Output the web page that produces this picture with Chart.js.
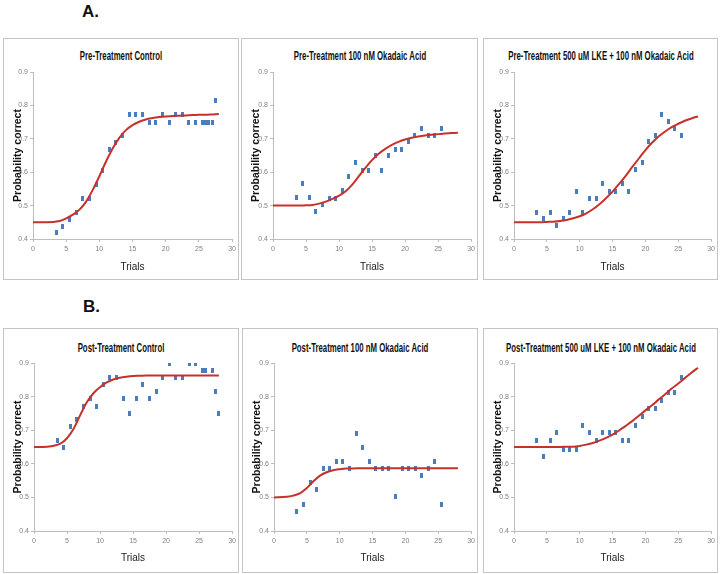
<!DOCTYPE html>
<html>
<head>
<meta charset="utf-8">
<script src="https://cdn.jsdelivr.net/npm/chart.js@4.4.1/dist/chart.umd.min.js"></script>
<style>
  body { margin: 0; background: #fff; width: 721px; height: 574px; position: relative; overflow: hidden; font-family: "Liberation Sans", Arial, sans-serif; }
  .label { position: absolute; font-weight: bold; font-size: 17px; line-height: 17px; color: #111; }
  .panel { position: absolute; border: 1px solid #c4c4c4; box-sizing: border-box; }
  .plot { position: absolute; }
  .ptitle { position: absolute; left: 50%; text-align: center; white-space: nowrap;
    font: bold 13px "Liberation Sans Narrow", "Liberation Sans", sans-serif; line-height: 15px; color: #111;
    transform: translateX(-50%) scaleX(0.6); transform-origin: center; }
</style>
</head>
<body>
<div class="label" style="left:82px; top:3px;">A.</div>
<div class="label" style="left:83px; top:298px;">B.</div>
<script>
// trials where each panel was sampled
const trials = [3.5, 4.5, 5.5, 6.5, 7.5, 8.5, 9.5, 10.5, 11.5, 12.5, 13.5, 14.5, 15.5, 16.5, 17.5, 18.5, 19.5, 20.5, 21.5, 22.5, 23.5, 24.5, 25.5];
const preControlTrials = [3.5, 4.5, 5.5, 6.5, 7.5, 8.5, 9.5, 10.5, 11.5, 12.5, 13.5, 14.5, 15.5, 16.5, 17.5, 18.5, 19.5, 20.5, 21.5, 22.5, 23.5, 24.5, 25.5, 26, 26.5, 27, 27.5];
const postControlTrials = [3.5, 4.5, 5.5, 6.5, 7.5, 8.5, 9.5, 10.5, 11.5, 12.5, 13.5, 14.5, 15.5, 16.5, 17.5, 18.5, 19.5, 20.5, 21.5, 22.5, 23.5, 24.5, 25.5, 26, 27, 27.5, 28];

const preControlProb = [0.418, 0.438, 0.458, 0.478, 0.52, 0.52, 0.564, 0.605, 0.668, 0.688, 0.709, 0.773, 0.773, 0.773, 0.75, 0.75, 0.773, 0.75, 0.773, 0.773, 0.75, 0.75, 0.75, 0.75, 0.75, 0.75, 0.814];
const preOkadaicProb = [0.524, 0.566, 0.524, 0.482, 0.504, 0.52, 0.52, 0.544, 0.586, 0.628, 0.606, 0.606, 0.649, 0.606, 0.649, 0.669, 0.669, 0.691, 0.711, 0.731, 0.711, 0.711, 0.731];
const preLkeProb = [0.48, 0.46, 0.48, 0.44, 0.46, 0.48, 0.542, 0.48, 0.522, 0.522, 0.565, 0.542, 0.542, 0.565, 0.542, 0.607, 0.629, 0.691, 0.711, 0.774, 0.753, 0.731, 0.711];
const postControlProb = [0.668, 0.648, 0.71, 0.732, 0.772, 0.794, 0.772, 0.836, 0.856, 0.856, 0.794, 0.751, 0.794, 0.836, 0.794, 0.814, 0.856, 0.898, 0.856, 0.856, 0.898, 0.898, 0.877, 0.877, 0.877, 0.814, 0.751];
const postOkadaicProb = [0.459, 0.48, 0.544, 0.524, 0.586, 0.586, 0.606, 0.606, 0.586, 0.69, 0.648, 0.606, 0.586, 0.586, 0.586, 0.502, 0.586, 0.586, 0.586, 0.564, 0.586, 0.606, 0.48];
const postLkeProb = [0.668, 0.621, 0.668, 0.692, 0.644, 0.644, 0.644, 0.715, 0.692, 0.668, 0.692, 0.692, 0.692, 0.668, 0.668, 0.715, 0.74, 0.764, 0.764, 0.787, 0.811, 0.811, 0.858];

// fitted curves, read at these trials
const fitTrials = [0, 2, 4, 5, 6, 7, 8, 9, 10, 11, 12, 13, 14, 15, 16, 17, 18, 19, 20, 21, 22, 23, 24, 25, 26, 27, 28];
const preControlFit = [0.450, 0.450, 0.454, 0.462, 0.473, 0.488, 0.512, 0.547, 0.588, 0.632, 0.671, 0.703, 0.726, 0.741, 0.751, 0.758, 0.762, 0.765, 0.767, 0.768, 0.769, 0.770, 0.771, 0.772, 0.772, 0.773, 0.774];
const preOkadaicFit = [0.500, 0.500, 0.500, 0.501, 0.502, 0.506, 0.512, 0.520, 0.530, 0.543, 0.563, 0.588, 0.613, 0.636, 0.655, 0.670, 0.682, 0.691, 0.698, 0.703, 0.707, 0.710, 0.712, 0.714, 0.716, 0.717, 0.718];
const preLkeFit = [0.450, 0.450, 0.450, 0.451, 0.452, 0.454, 0.457, 0.462, 0.468, 0.477, 0.489, 0.504, 0.522, 0.542, 0.565, 0.589, 0.616, 0.641, 0.666, 0.688, 0.707, 0.722, 0.735, 0.745, 0.754, 0.761, 0.767];
const postControlFit = [0.650, 0.651, 0.660, 0.676, 0.704, 0.745, 0.783, 0.810, 0.828, 0.842, 0.851, 0.856, 0.859, 0.861, 0.862, 0.863, 0.863, 0.863, 0.863, 0.863, 0.863, 0.863, 0.863, 0.863, 0.863, 0.863, 0.863];
const postOkadaicFit = [0.500, 0.502, 0.513, 0.528, 0.548, 0.565, 0.575, 0.581, 0.584, 0.586, 0.586, 0.587, 0.587, 0.587, 0.587, 0.587, 0.587, 0.587, 0.587, 0.587, 0.587, 0.587, 0.587, 0.587, 0.587, 0.587, 0.587];
const postLkeFit = [0.650, 0.650, 0.650, 0.650, 0.650, 0.650, 0.651, 0.651, 0.653, 0.657, 0.662, 0.669, 0.677, 0.687, 0.699, 0.713, 0.727, 0.743, 0.759, 0.774, 0.791, 0.807, 0.824, 0.839, 0.855, 0.871, 0.886];

const panelTitles = [
  "Pre-Treatment Control",
  "Pre-Treatment 100 nM Okadaic Acid",
  "Pre-Treatment 500 uM LKE + 100 nM Okadaic Acid",
  "Post-Treatment Control",
  "Post-Treatment 100 nM Okadaic Acid",
  "Post-Treatment 500 uM LKE + 100 nM Okadaic Acid",
];
const xTitle = "Trials";
const yTitle = "Probability correct";
const xMin = 0, xMax = 30, xStep = 5;
const yMin = 0.4, yMax = 0.9, yStep = 0.1;

const panelData = [
  [preControlTrials, preControlProb, preControlFit],
  [trials, preOkadaicProb, preOkadaicFit],
  [trials, preLkeProb, preLkeFit],
  [postControlTrials, postControlProb, postControlFit],
  [trials, postOkadaicProb, postOkadaicFit],
  [trials, postLkeProb, postLkeFit],
];

// box = left, top, width, height; plot offsets inside the box
const boxes = [
  { l: 3, t: 38, w: 236, h: 242, pl: 30, pr: 5, pt: 34, pb: 41, tt: 9 },
  { l: 241, t: 38, w: 237, h: 242, pl: 32, pr: 4, pt: 34, pb: 41, tt: 9 },
  { l: 483, t: 38, w: 235, h: 242, pl: 31, pr: 4, pt: 34, pb: 41, tt: 9 },
  { l: 3, t: 328, w: 236, h: 245, pl: 31, pr: 4, pt: 35, pb: 42, tt: 11 },
  { l: 242, t: 328, w: 236, h: 245, pl: 32, pr: 3, pt: 35, pb: 42, tt: 11 },
  { l: 483, t: 328, w: 235, h: 245, pl: 31, pr: 5, pt: 35, pb: 42, tt: 11 },
];

const marker = document.createElement("canvas");
marker.width = 3;
marker.height = 5;
const mctx = marker.getContext("2d");
mctx.fillStyle = "#4a7ebb";
mctx.fillRect(0, 0, 3, 5);

const tickFont = { family: '"Liberation Sans Narrow", "Liberation Sans", sans-serif', size: 7 };
const axisColor = "#bdbdbd";

function makePanel(index) {
  const b = boxes[index];
  const [xs, ys, fit] = panelData[index];

  const frame = document.createElement("div");
  frame.className = "panel";
  Object.assign(frame.style, { left: b.l + "px", top: b.t + "px", width: b.w + "px", height: b.h + "px" });
  document.body.appendChild(frame);

  const title = document.createElement("div");
  title.className = "ptitle";
  title.style.top = b.tt + "px";
  title.textContent = panelTitles[index];
  frame.appendChild(title);

  const canvas = document.createElement("canvas");
  canvas.className = "plot";
  canvas.width = b.w;
  canvas.height = b.h;
  Object.assign(canvas.style, { left: b.l + "px", top: b.t + "px", width: b.w + "px", height: b.h + "px" });
  document.body.appendChild(canvas);

  return new Chart(canvas, {
    type: "scatter",
    data: {
      datasets: [
        {
          type: "line",
          data: fitTrials.map((x, i) => ({ x, y: fit[i] })),
          borderColor: "#c8302c",
          borderWidth: 2,
          pointRadius: 0,
          tension: 0.4,
          cubicInterpolationMode: "monotone",
          fill: false,
        },
        {
          data: xs.map((x, i) => ({ x, y: ys[i] })),
          pointStyle: marker,
          pointRadius: 3,
          backgroundColor: "#4a7ebb",
          borderWidth: 0,
        },
      ],
    },
    options: {
      responsive: false,
      animation: false,
      events: [],
      layout: { padding: { top: b.pt, right: b.pr, left: 0, bottom: 0 } },
      plugins: { legend: { display: false }, tooltip: { enabled: false } },
      scales: {
        x: {
          type: "linear",
          min: xMin,
          max: xMax,
          ticks: { stepSize: xStep, font: tickFont, color: "#808080", padding: 3 },
          grid: { drawOnChartArea: false, tickLength: 3, color: axisColor },
          border: { color: axisColor },
          title: {
            display: true,
            text: xTitle,
            color: "#222",
            font: { family: '"Liberation Sans Narrow", "Liberation Sans", sans-serif', size: 10 },
            padding: { top: 0, bottom: index < 3 ? 7 : 9 },
          },
          afterFit: (scale) => { scale.height = b.pb; },
        },
        y: {
          min: yMin,
          max: yMax,
          ticks: { stepSize: yStep, font: tickFont, color: "#808080", padding: 2, callback: (v) => v.toFixed(1) },
          grid: { drawOnChartArea: false, tickLength: 3, color: axisColor },
          border: { color: axisColor },
          title: {
            display: true,
            text: yTitle,
            color: "#111",
            font: { family: '"Liberation Sans", Arial, sans-serif', size: 10.5, weight: "bold" },
            padding: { top: 9, bottom: 0 },
          },
          afterFit: (scale) => { scale.width = b.pl; },
        },
      },
    },
  });
}

boxes.forEach((box, i) => makePanel(i));
</script>
</body>
</html>
